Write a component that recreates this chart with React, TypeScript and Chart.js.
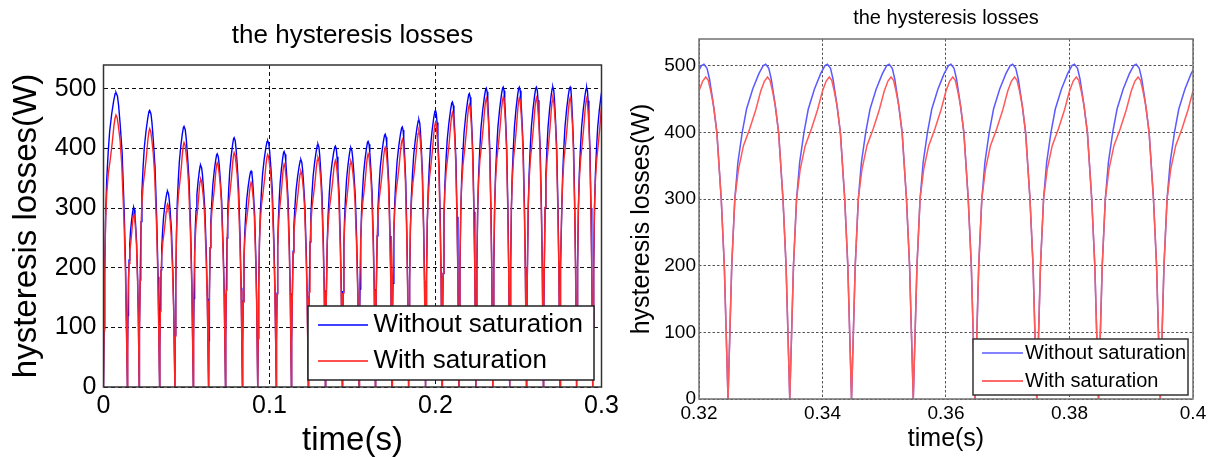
import React, { useEffect, useRef } from 'react';
import { Chart, registerables } from 'chart.js';

Chart.register(...registerables);

const FONT = '"Liberation Sans", Arial, Helvetica, sans-serif';

// ---------------- Left panel (0 – 0.3 s) ----------------
const leftTitle = 'the hysteresis losses';
const leftXTicks = [0, 0.1, 0.2, 0.3];
const leftYTicks = [0, 100, 200, 300, 400, 500];
// times (s) where the curves fall to zero
const leftDips = [0, 0.0144, 0.0215, 0.0338, 0.043, 0.0541, 0.0633, 0.0735, 0.0837, 0.0929, 0.1041, 0.1132, 0.1234, 0.1337, 0.1439, 0.154, 0.1638, 0.1738, 0.1838, 0.194, 0.204, 0.2141, 0.2243, 0.2345, 0.2447, 0.2548, 0.265, 0.275, 0.285, 0.2947, 0.3047];
// times (s) of each hump's top
const leftPeakTimes = [0.0075, 0.0182, 0.0278, 0.0386, 0.0485, 0.0585, 0.0685, 0.0787, 0.0889, 0.0989, 0.1088, 0.1189, 0.1292, 0.1397, 0.149, 0.1594, 0.1697, 0.18, 0.19, 0.2, 0.2102, 0.2204, 0.2306, 0.2408, 0.2505, 0.2608, 0.2707, 0.2811, 0.2911, 0.3008];
// hump tops (W)
const leftBluePeaks = [494, 301, 464, 328, 437, 372, 391, 418, 362, 413, 395, 381, 407, 404, 401, 412, 424, 436, 448, 464, 478, 492, 501, 503, 503, 503, 503, 503, 502, 502];
const leftRedPeaks = [456, 290, 433, 307, 410, 349, 376, 393, 343, 390, 374, 362, 385, 380, 379, 391, 402, 415, 430, 444, 460, 474, 484, 486, 485, 485, 485, 485, 484, 484];

// ---------------- Right panel (0.32 – 0.4 s) ----------------
const rightXTicks = [0.32, 0.34, 0.36, 0.38, 0.4];
const rightYTicks = [0, 100, 200, 300, 400, 500];
const rightDips = [0.3147, 0.3247, 0.3347, 0.3447, 0.3547, 0.3647, 0.3747, 0.3847, 0.3947];
// one cycle: offset from the dip (s) and value (W)
const cycleBlueOffsets = [0, 0.0003, 0.0006, 0.0011, 0.0016, 0.0023, 0.003, 0.004, 0.005, 0.0057, 0.0061, 0.0066, 0.007, 0.0075, 0.0082, 0.0089, 0.0094, 0.0097, 0.01];
const cycleBlueValues = [0, 100, 200, 300, 355, 400, 435, 465, 488, 500, 502, 496, 480, 450, 400, 300, 200, 100, 0];
const cycleRedOffsets = [0, 0.0003, 0.0006, 0.0011, 0.0017, 0.0025, 0.0035, 0.0045, 0.0053, 0.0059, 0.0064, 0.0068, 0.0072, 0.0077, 0.0082, 0.0089, 0.0094, 0.0097, 0.01];
const cycleRedValues = [0, 100, 200, 300, 345, 380, 405, 434, 462, 477, 483, 478, 462, 438, 398, 300, 200, 100, 0];

const seriesNames = ['Without saturation', 'With saturation'];

type Pt = { x: number; y: number };

function repeatCycle(dips: number[], offs: number[], vals: number[]): Pt[] {
  const pts: Pt[] = [];
  dips.forEach((d) => offs.forEach((o, i) => pts.push({ x: d + o, y: vals[i] })));
  return pts;
}

// lay the read cycle shape between each read dip / peak / dip, at the read peak height
function warpCycles(dips: number[], peakTimes: number[], peaks: number[], offs: number[], vals: number[]): Pt[] {
  const k = vals.indexOf(Math.max(...vals));
  const pOff = offs[k];
  const end = offs[offs.length - 1];
  const pVal = vals[k];
  const pts: Pt[] = [];
  peakTimes.forEach((tp, c) => {
    const d0 = dips[c];
    const d1 = dips[c + 1];
    offs.forEach((o, i) => {
      const x = o <= pOff ? d0 + (o / pOff) * (tp - d0) : tp + ((o - pOff) / (end - pOff)) * (d1 - tp);
      pts.push({ x, y: (vals[i] / pVal) * peaks[c] });
    });
  });
  return pts;
}

const frameLegendPlugin = {
  id: 'frameLegend',
  afterDatasetsDraw(chart: any, _args: any, o: any) {
    const { ctx, chartArea: a } = chart;
    ctx.save();
    ctx.setLineDash([]);
    ctx.strokeStyle = o.frameColor;
    ctx.lineWidth = o.frameWidth;
    ctx.strokeRect(a.left, a.top, a.right - a.left, a.bottom - a.top);
    const bx = a.right - o.boxRight - o.boxWidth;
    const by = a.bottom - o.boxBottom - o.boxHeight;
    ctx.fillStyle = '#ffffff';
    ctx.fillRect(bx, by, o.boxWidth, o.boxHeight);
    ctx.strokeStyle = o.boxColor;
    ctx.lineWidth = o.boxLineWidth;
    ctx.strokeRect(bx, by, o.boxWidth, o.boxHeight);
    ctx.font = `${o.fontSize}px ${FONT}`;
    ctx.textBaseline = 'middle';
    ctx.textAlign = 'left';
    chart.data.datasets.forEach((ds: any, i: number) => {
      const y = by + o.rowY[i];
      ctx.strokeStyle = o.sampleColors[i];
      ctx.lineWidth = o.sampleWidth[i];
      ctx.beginPath();
      ctx.moveTo(bx + o.lineX0, y);
      ctx.lineTo(bx + o.lineX1, y);
      ctx.stroke();
      ctx.fillStyle = '#000';
      ctx.fillText(ds.label, bx + o.textX, y);
    });
    ctx.restore();
  },
};

function makeConfig(p: any) {
  return {
    type: 'line',
    data: {
      datasets: [
        { label: seriesNames[0], data: p.blue, borderColor: p.blueColor, borderWidth: p.lineWidth, pointRadius: 0, tension: 0, order: 1, parsing: false },
        { label: seriesNames[1], data: p.red, borderColor: p.redColor, borderWidth: p.lineWidth, pointRadius: 0, tension: 0, order: 0, parsing: false },
      ],
    },
    plugins: [frameLegendPlugin],
    options: {
      animation: false,
      responsive: false,
      maintainAspectRatio: false,
      events: [],
      layout: { padding: { left: 0, right: p.padRight, top: 0, bottom: 0 } },
      plugins: {
        legend: { display: false },
        tooltip: { enabled: false },
        title: {
          display: true,
          text: leftTitle,
          fullSize: false,
          color: '#000',
          font: { family: FONT, size: p.titleSize, weight: 'normal', lineHeight: 1 },
          padding: { top: p.titleTop, bottom: p.titleBottom },
        },
        frameLegend: p.legend,
      },
      scales: {
        x: {
          type: 'linear',
          min: p.xMin,
          max: p.xMax,
          afterBuildTicks: (s: any) => { s.ticks = p.xTicks.map((v: number) => ({ value: v })); },
          afterFit: (s: any) => { s.height = p.xHeight; s.paddingLeft = 0; s.paddingRight = 0; s.paddingTop = 0; s.paddingBottom = 0; },
          ticks: { autoSkip: false, maxRotation: 0, minRotation: 0, padding: p.xTickPad, color: '#000', font: { family: FONT, size: p.tickSize, lineHeight: 1 }, callback: (v: number) => String(v) },
          grid: { color: p.gridColor, lineWidth: 1, drawTicks: false },
          border: { display: false, dash: p.gridDash },
          title: { display: true, text: 'time(s)', color: '#000', font: { family: FONT, size: p.labelSize, lineHeight: 1 }, padding: { top: 0, bottom: p.xTitleBottom } },
        },
        y: {
          type: 'linear',
          min: 0,
          max: 540,
          afterBuildTicks: (s: any) => { s.ticks = p.yTicks.map((v: number) => ({ value: v })); },
          afterFit: (s: any) => { s.width = p.yWidth; s.paddingLeft = 0; s.paddingRight = 0; s.paddingTop = 0; s.paddingBottom = 0; },
          ticks: { autoSkip: false, padding: p.yTickPad, color: '#000', font: { family: FONT, size: p.tickSize, lineHeight: 1 }, callback: (v: number) => String(v) },
          grid: { color: p.gridColor, lineWidth: 1, drawTicks: false },
          border: { display: false, dash: p.gridDash },
          title: { display: true, text: 'hysteresis losses(W)', color: '#000', font: { family: FONT, size: p.labelSize, lineHeight: 1 }, padding: { top: p.yTitleTop, bottom: 0 } },
        },
      },
    },
  };
}

export default function App() {
  const leftRef = useRef<HTMLCanvasElement | null>(null);
  const rightRef = useRef<HTMLCanvasElement | null>(null);

  useEffect(() => {
    const leftBlue = warpCycles(leftDips, leftPeakTimes, leftBluePeaks, cycleBlueOffsets, cycleBlueValues);
    const leftRed = warpCycles(leftDips, leftPeakTimes, leftRedPeaks, cycleRedOffsets, cycleRedValues);
    const rightBlue = repeatCycle(rightDips, cycleBlueOffsets, cycleBlueValues);
    const rightRed = repeatCycle(rightDips, cycleRedOffsets, cycleRedValues);

    const c1 = new Chart(leftRef.current as HTMLCanvasElement, makeConfig({
      blue: leftBlue, red: leftRed, blueColor: '#0000ff', redColor: '#ff2424', lineWidth: 1.4,
      padRight: 18.5, titleSize: 26, titleTop: 23, titleBottom: 16,
      xMin: 0, xMax: 0.3, xTicks: leftXTicks, yTicks: leftYTicks,
      xHeight: 70, yWidth: 103.5, xTickPad: 7, yTickPad: 7, tickSize: 25, labelSize: 33,
      xTitleBottom: 0, yTitleTop: 10, gridColor: '#111', gridDash: [4, 3],
      legend: {
        frameColor: '#333', frameWidth: 1.5, boxRight: 7.5, boxBottom: 7, boxWidth: 286, boxHeight: 74,
        boxColor: '#222', boxLineWidth: 1.5, fontSize: 26, rowY: [19, 55], lineX0: 10, lineX1: 60, textX: 65.5,
        sampleColors: ['#0000ff', '#ff5050'], sampleWidth: [1.5, 2],
      },
    }) as any);

    const c2 = new Chart(rightRef.current as HTMLCanvasElement, makeConfig({
      blue: rightBlue, red: rightRed, blueColor: '#5a5aff', redColor: '#ff5a5a', lineWidth: 1.5,
      padRight: 22, titleSize: 20, titleTop: 8, titleBottom: 11,
      xMin: 0.32, xMax: 0.4, xTicks: rightXTicks, yTicks: rightYTicks,
      xHeight: 58, yWidth: 79, xTickPad: 5.5, yTickPad: 3, tickSize: 19, labelSize: 25,
      xTitleBottom: 5, yTitleTop: 10, gridColor: '#555', gridDash: [2.5, 2],
      legend: {
        frameColor: '#707070', frameWidth: 1.5, boxRight: 5, boxBottom: 4, boxWidth: 215, boxHeight: 56,
        boxColor: '#333', boxLineWidth: 1.5, fontSize: 20, rowY: [14, 42], lineX0: 9, lineX1: 50, textX: 52,
        sampleColors: ['#5a5aff', '#ff6a6a'], sampleWidth: [1.5, 2],
      },
    }) as any);

    return () => {
      c1.destroy();
      c2.destroy();
    };
  }, []);

  return (
    <div style={{ position: 'fixed', left: 0, top: 0, width: 1215, height: 457, background: '#fff' }}>
      <canvas ref={leftRef} width={620} height={457} style={{ position: 'absolute', left: 0, top: 0, width: 620, height: 457 }} />
      <canvas ref={rightRef} width={595} height={457} style={{ position: 'absolute', left: 620, top: 0, width: 595, height: 457 }} />
    </div>
  );
}
